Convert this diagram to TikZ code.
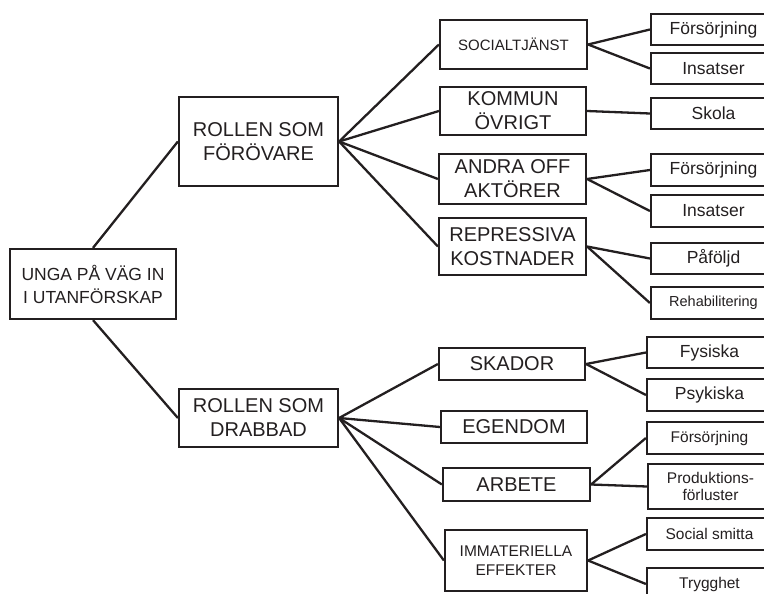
\documentclass[tikz,border=0pt]{standalone}
\usepackage{fontspec}
\setmainfont{Liberation Sans}

\definecolor{ink}{RGB}{35,31,32}
\tikzstyle{box} = [draw=ink,text=ink,rectangle,inner sep=0pt,align=center,line width=2.2pt]
\tikzstyle{link} = [draw=ink,line width=2.3pt]

\begin{document}
\begin{tikzpicture}[x=1pt,y=-1pt]
	\useasboundingbox (0,0) rectangle (764,594);
	\clip (0,0) rectangle (764,594);

	% root and the two roles
	\node[box,minimum width=166,minimum height=70,font=\fontsize{17.5}{23}\selectfont] (root) at (93,284) {UNGA PÅ VÄG IN\\I UTANFÖRSKAP};
	\node[box,minimum width=159,minimum height=89,font=\fontsize{20}{24}\selectfont] (forovare) at (258.5,141.5) {ROLLEN SOM\\FÖRÖVARE};
	\node[box,minimum width=159,minimum height=58,font=\fontsize{20}{24}\selectfont] (drabbad) at (258.5,418) {ROLLEN SOM\\DRABBAD};

	% second level
	\node[box,minimum width=147,minimum height=49,font=\fontsize{15}{18}\selectfont] (soc) at (513.5,44.5) {SOCIALTJÄNST};
	\node[box,minimum width=146,minimum height=48,font=\fontsize{20}{24}\selectfont] (kommun) at (513,111) {KOMMUN\\ÖVRIGT};
	\node[box,minimum width=147,minimum height=50,font=\fontsize{20}{24}\selectfont] (andra) at (512.5,179) {ANDRA OFF\\AKTÖRER};
	\node[box,minimum width=147,minimum height=57,font=\fontsize{20}{24}\selectfont] (repr) at (512.5,246.5) {REPRESSIVA\\KOSTNADER};
	\node[box,minimum width=146,minimum height=32,font=\fontsize{20}{24}\selectfont] (skador) at (512,364) {SKADOR};
	\node[box,minimum width=146,minimum height=32,font=\fontsize{20}{24}\selectfont] (egendom) at (514,427) {EGENDOM};
	\node[box,minimum width=147,minimum height=33,font=\fontsize{20}{24}\selectfont] (arbete) at (516.5,484.5) {ARBETE};
	\node[box,minimum width=142,minimum height=61,font=\fontsize{15.5}{19}\selectfont] (immat) at (516,560.5) {IMMATERIELLA\\EFFEKTER};

	% third level
	\node[box,minimum width=125,minimum height=31,font=\fontsize{17.5}{21}\selectfont] (fors1) at (713.5,29.5) {Försörjning};
	\node[box,minimum width=125,minimum height=31,font=\fontsize{17.5}{21}\selectfont] (ins1) at (713.5,68.5) {Insatser};
	\node[box,minimum width=125,minimum height=31,font=\fontsize{17.5}{21}\selectfont] (skola) at (713.5,113.5) {Skola};
	\node[box,minimum width=125,minimum height=32,font=\fontsize{17.5}{21}\selectfont] (fors2) at (713.5,170) {Försörjning};
	\node[box,minimum width=125,minimum height=32,font=\fontsize{17.5}{21}\selectfont] (ins2) at (713.5,211) {Insatser};
	\node[box,minimum width=125,minimum height=31,font=\fontsize{17.5}{21}\selectfont] (pafoljd) at (713.5,258.5) {Påföljd};
	\node[box,minimum width=125,minimum height=32,font=\fontsize{14.5}{17}\selectfont] (rehab) at (713.5,303) {Rehabilitering};

	\node[box,minimum width=125,minimum height=31,font=\fontsize{17.5}{21}\selectfont] (fysiska) at (709.5,352.5) {Fysiska};
	\node[box,minimum width=125,minimum height=32,font=\fontsize{17.5}{21}\selectfont] (psykiska) at (709.5,395) {Psykiska};
	\node[box,minimum width=125,minimum height=32,font=\fontsize{15.5}{19}\selectfont] (fors3) at (709.5,438) {Försörjning};
	\node[box,minimum width=125,minimum height=45,font=\fontsize{15.5}{17}\selectfont] (prod) at (710.5,486.5) {Produktions-\\förluster};
	\node[box,minimum width=125,minimum height=32,font=\fontsize{15.5}{19}\selectfont] (smitta) at (709.5,534) {Social smitta};
	\node[box,minimum width=125,minimum height=32,font=\fontsize{15.5}{19}\selectfont] (trygg) at (709.5,584) {Trygghet};

	\draw[link] (root.north) -- (forovare.west);
	\draw[link] (root.south) -- (drabbad.west);

	\draw[link] (forovare.east) -- (soc.west);
	\draw[link] (forovare.east) -- (kommun.west);
	\draw[link] (forovare.east) -- (andra.west);
	\draw[link] (forovare.east) -- (repr.west);

	\draw[link] (drabbad.east) -- (skador.west);
	\draw[link] (drabbad.east) -- (egendom.west);
	\draw[link] (drabbad.east) -- (arbete.west);
	\draw[link] (drabbad.east) -- (immat.west);

	\draw[link] (soc.east) -- (fors1.west);
	\draw[link] (soc.east) -- (ins1.west);
	\draw[link] (kommun.east) -- (skola.west);
	\draw[link] (andra.east) -- (fors2.west);
	\draw[link] (andra.east) -- (ins2.west);
	\draw[link] (repr.east) -- (pafoljd.west);
	\draw[link] (repr.east) -- (rehab.west);

	\draw[link] (skador.east) -- (fysiska.west);
	\draw[link] (skador.east) -- (psykiska.west);
	\draw[link] (arbete.east) -- (fors3.west);
	\draw[link] (arbete.east) -- (prod.west);
	\draw[link] (immat.east) -- (smitta.west);
	\draw[link] (immat.east) -- (trygg.west);
\end{tikzpicture}
\end{document}
